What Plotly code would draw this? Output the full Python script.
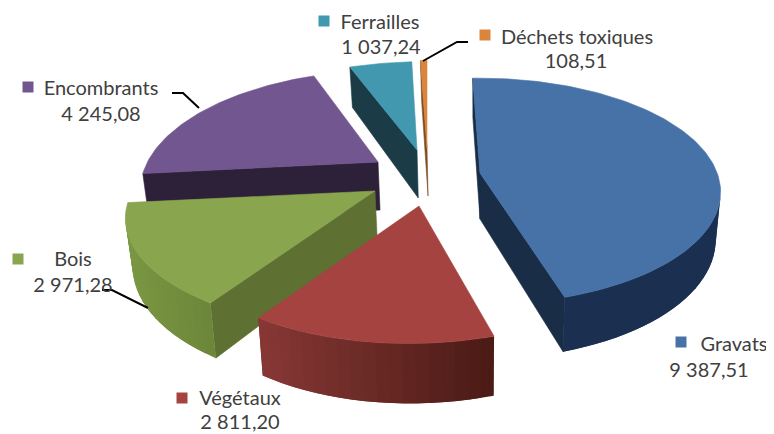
import math
import plotly.graph_objects as go

# --- data ---
categories = ["Gravats", "Végétaux", "Bois", "Encombrants", "Ferrailles", "Déchets toxiques"]
values = [9387.51, 2811.20, 2971.28, 4245.08, 1037.24, 108.51]

# --- styles ---
top_colors = ["#4672A8", "#A54341", "#89A54E", "#71568F", "#4198AF", "#DB843D"]
cut_colors = ["#1A2D47", "#5A2320", "#5E7032", "#2C2138", "#1B3C47", "#7E4B22"]
wall_left = ["#1A2D47", "#873835", "#7A9743", "#2C2138", "#1B3C47", "#7E4B22"]
wall_right = ["#1B3050", "#4A1A15", "#6C8639", "#2C2138", "#1B3C47", "#7E4B22"]
swatch_colors = ["#4672A8", "#A54341", "#89A54E", "#71568F", "#4198AF", "#DB843D"]

# per-slice explosion and camera terms (pixel space)
apex = [(480, 173), (419, 206), (375, 191), (378, 162), (417, 150), (427, 148)]
sx = [236, 237, 244, 232, 237, 237]
skew = [-8.4, 3.4, 2.6, 3.6, 1.6, 0]
sy = [-110, -110, -110, -110, -106, -105]
persp = [0.16, 0.2, 0.2, 0.2, 0.2, 0.2]
depth = [46, 48, 46, 48, 48, 48]
draw_order = [3, 4, 5, 2, 1, 0]

swatch_pos = [(681, 342), (182, 398), (18, 259), (28, 87), (324, 21), (485, 35)]
name_pos = [(734, 346), (240, 400), (73, 261), (101, 90), (380, 24), (577, 39)]
value_pos = [(709, 372), (240, 424), (73, 287), (101, 116), (381, 49), (576, 63)]
leaders = {
    2: [(102, 290), (112, 290), (148, 308)],
    3: [(172, 93), (183, 93), (199, 108)],
    5: [(423, 61), (457, 42), (468, 42)],
}


def fmt(v):
    return f"{v:,.2f}".replace(",", " ").replace(".", ",")


def top_pt(i, deg, r=1.0):
    t = math.radians(deg)
    u, v = r * math.sin(t), r * math.cos(t)
    w = 1 + persp[i] * v
    return (apex[i][0] + (sx[i] * u + skew[i] * v) / w,
            apex[i][1] + (-3 * u + sy[i] * v) / w)


def drop(i, deg, r=1.0):
    t = math.radians(deg)
    x, y = top_pt(i, deg, r)
    w = 1 + persp[i] * r * math.cos(t)
    return (x + (480 - x) * 0.02, y + depth[i] / w)


def mix(a, b, f):
    ca = [int(a[k:k + 2], 16) for k in (1, 3, 5)]
    cb = [int(b[k:k + 2], 16) for k in (1, 3, 5)]
    return "#%02x%02x%02x" % tuple(round(p + (q - p) * f) for p, q in zip(ca, cb))


fig = go.Figure()


def poly(pts, color, lw=0.6):
    xs = [p[0] for p in pts] + [pts[0][0]]
    ys = [p[1] for p in pts] + [pts[0][1]]
    fig.add_trace(go.Scatter(x=xs, y=ys, mode="lines", fill="toself", fillcolor=color,
                             line=dict(color=color, width=lw), hoverinfo="skip", showlegend=False))


total = sum(values)
starts, acc = [], 0.0
for v in values:
    starts.append(acc)
    acc += v / total * 360

for i in draw_order:
    a0 = starts[i]
    a1 = a0 + values[i] / total * 360
    rim0, rim1 = top_pt(i, a0), top_pt(i, a1)
    cx, cy = apex[i]
    if rim0[0] < cx:
        poly([(cx, cy), rim0, drop(i, a0), drop(i, a0, 0)], cut_colors[i])
    if rim1[0] > cx:
        poly([rim1, (cx, cy), drop(i, a1, 0), drop(i, a1)], cut_colors[i])
    n = max(4, int((a1 - a0) / 2.5))
    for k in range(n):
        b0 = a0 + (a1 - a0) * k / n
        b1 = a0 + (a1 - a0) * (k + 1) / n
        b2 = a0 + (a1 - a0) * min(n, k + 2) / n
        p0, p1 = top_pt(i, b0), top_pt(i, b1)
        if p1[0] < p0[0]:
            f = 1 - (p0[0] + p1[0] - 2 * rim1[0]) / max(1, 2 * (rim0[0] - rim1[0]))
            f = min(1, max(0, f))
            poly([p0, top_pt(i, b2), drop(i, b2), drop(i, b0)], mix(wall_right[i], wall_left[i], f), 0)
    arc = [top_pt(i, a0 + (a1 - a0) * k / max(n * 2, 2)) for k in range(max(n * 2, 2) + 1)]
    poly([(cx, cy)] + arc, top_colors[i])

for i, pts in leaders.items():
    fig.add_trace(go.Scatter(x=[p[0] for p in pts], y=[p[1] for p in pts], mode="lines",
                             line=dict(color="#000000", width=2), hoverinfo="skip", showlegend=False))

fig.add_trace(go.Scatter(x=[p[0] for p in swatch_pos], y=[p[1] for p in swatch_pos], mode="markers",
                         marker=dict(symbol="square", size=11, color=swatch_colors),
                         hoverinfo="skip", showlegend=False))
text_font = dict(family="Lato", size=20, color="#404040")
fig.add_trace(go.Scatter(x=[p[0] for p in name_pos], y=[p[1] for p in name_pos], mode="text",
                         text=categories, textposition="middle center", textfont=text_font,
                         cliponaxis=False, hoverinfo="skip", showlegend=False))
fig.add_trace(go.Scatter(x=[p[0] for p in value_pos], y=[p[1] for p in value_pos], mode="text",
                         text=[fmt(v) for v in values], textposition="middle center", textfont=text_font,
                         cliponaxis=False, hoverinfo="skip", showlegend=False))

fig.update_layout(width=766, height=426, margin=dict(l=0, r=0, t=0, b=0),
                  paper_bgcolor="white", plot_bgcolor="white", showlegend=False,
                  xaxis=dict(range=[8, 774], visible=False, fixedrange=True),
                  yaxis=dict(range=[434, 8], visible=False, fixedrange=True))
fig.write_html("out.html", config={"displayModeBar": False})
